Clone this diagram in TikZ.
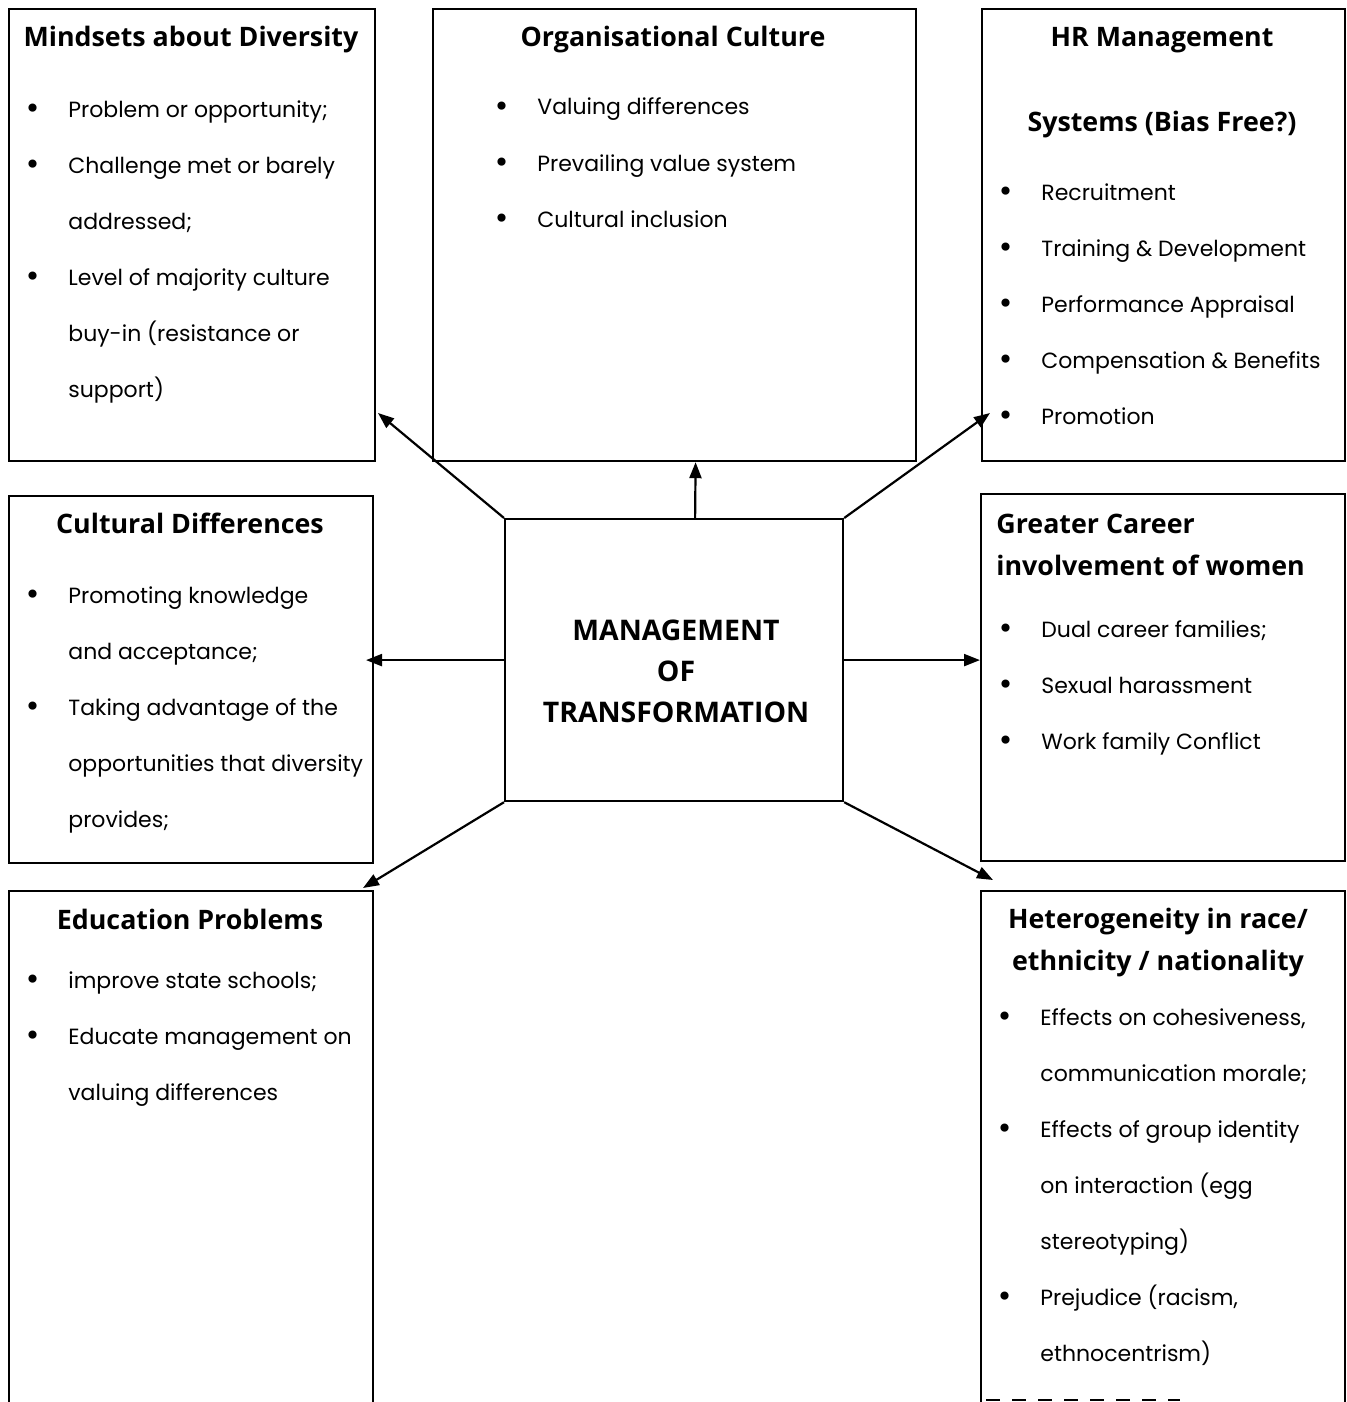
\documentclass[tikz,border=0pt]{standalone}
\usepackage{fontspec}
\newfontfamily\headfont{Open Sans}
\newfontfamily\bodyfont{Poppins}
\newfontfamily\bulfont{DejaVu Sans}
\usepackage{tikz}
\usetikzlibrary{arrows.meta, positioning}

\newcommand{\bul}{\makebox[22pt][l]{\raisebox{-0.8pt}{\bulfont\fontsize{14}{14}\selectfont\textbullet}}}
\newcommand{\cont}{\hspace*{22pt}}

\begin{document}
\begin{tikzpicture}[
  x=0.5pt, y=-0.5pt,
  panel/.style={rectangle, draw=black, line width=1.1pt, inner sep=0pt, anchor=north west},
  head/.style={font={\headfont\bfseries\fontsize{13.4}{21}\selectfont}, inner sep=0pt, anchor=base},
  body/.style={font={\bodyfont\fontsize{11}{28}\selectfont}, align=left, inner sep=0pt, anchor=base west},
  arr/.style={-{Triangle[length=8pt,width=6pt]}, line width=1.1pt}
]
\useasboundingbox (0,0) rectangle (1346,1402);
\node[panel, minimum width=183pt, minimum height=226pt] (mind) at (8,8) {};
\node[panel, minimum width=241.5pt, minimum height=226pt] (org) at (432,8) {};
\node[panel, minimum width=181.5pt, minimum height=226pt] (hr) at (981,8) {};
\node[panel, minimum width=182pt, minimum height=183.5pt] (cult) at (8,495) {};
\node[panel, minimum width=169pt, minimum height=141pt] (mgmt) at (504,518) {};
\node[panel, minimum width=182pt, minimum height=183.5pt] (career) at (980,493) {};
\node[panel, minimum width=182pt, minimum height=270pt] (edu) at (8,890) {};
\node[panel, minimum width=182pt, minimum height=270pt] (het) at (980,890) {};
\draw[dashed, dash pattern=on 7pt off 6pt, line width=1.1pt] ([yshift=16pt,xshift=3pt]het.south west) -- ++(194,0);

\node[head] (mindhead) at (191,47) {Mindsets about Diversity};
\node[head] (orghead) at (673,47) {Organisational Culture};
\node[head, align=center] (hrhead) at (1162,132) {HR Management\\[21.5pt]Systems (Bias Free?)};
\node[head] (culthead) at (190,533) {Cultural Differences};
\node[head, align=left, anchor=base west] (careerhead) at (996,575) {Greater Career\\involvement of women};
\node[head] (eduhead) at (190,929) {Education Problems};
\node[head, align=center] (hethead) at (1158,970) {Heterogeneity in race/\\ethnicity / nationality};
\node[head, align=center, font={\headfont\bfseries\fontsize{14.2}{20.5}\selectfont}] (mgmtlabel) at (676,722) {MANAGEMENT\\OF\\TRANSFORMATION};

\node[body] (mindbody) at (24,397) {\bul Problem or opportunity;\\ \bul Challenge met or barely\\ \cont addressed;\\ \bul Level of majority culture\\ \cont buy-in (resistance or\\ \cont support)};
\node[body] (orgbody) at (493,227) {\bul Valuing differences\\ \bul Prevailing value system\\ \bul Cultural inclusion};
\node[body] (hrbody) at (997,424) {\bul Recruitment\\ \bul Training \& Development\\ \bul Performance Appraisal\\ \bul Compensation \& Benefits\\ \bul Promotion};
\node[body] (cultbody) at (24,827) {\bul Promoting knowledge\\ \cont and acceptance;\\ \bul Taking advantage of the\\ \cont opportunities that diversity\\ \cont provides;};
\node[body] (careerbody) at (997,749) {\bul Dual career families;\\ \bul Sexual harassment\\ \bul Work family Conflict};
\node[body] (edubody) at (24,1100) {\bul improve state schools;\\ \bul Educate management on\\ \cont valuing differences};
\node[body] (hetbody) at (996,1361) {\bul Effects on cohesiveness,\\ \cont communication morale;\\ \bul Effects of group identity\\ \cont on interaction (egg\\ \cont stereotyping)\\ \bul Prejudice (racism,\\ \cont ethnocentrism)};

\coordinate (mindtip) at (378,413);
\coordinate (hrtip) at (990,413);
\coordinate (culttip) at (366,662);
\coordinate (edutip) at (363,888);
\coordinate (hettip) at (993,880);
\draw[arr] (mgmt.north west) -- (mindtip);
\draw[arr] ([xshift=10.5pt]mgmt.north) -- ([xshift=10.5pt]org.south);
\draw[arr] (mgmt.north east) -- (hrtip);
\draw[arr] (mgmt.west) -- (mgmt.west -| culttip);
\draw[arr] (mgmt.east) -- (mgmt.east -| career.west);
\draw[arr] (mgmt.south west) -- (edutip);
\draw[arr] (mgmt.south east) -- (hettip);
\end{tikzpicture}
\end{document}
